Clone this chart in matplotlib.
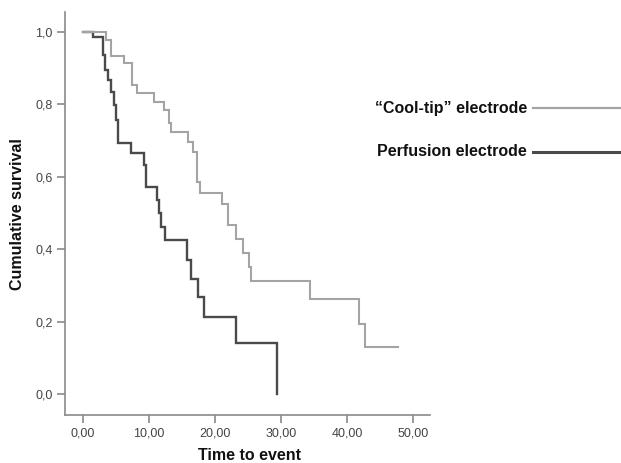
import matplotlib
matplotlib.use("Agg")
import matplotlib.pyplot as plt
from matplotlib.lines import Line2D

# Data
cool_time = [0.0, 3.5, 4.2, 6.2, 7.4, 8.2, 10.7, 12.3, 13.0, 13.4, 15.9, 16.6,
             17.3, 17.8, 21.1, 21.9, 23.1, 24.3, 25.2, 25.5, 34.4, 41.7, 42.6, 47.6]
cool_surv = [1.0, 0.978, 0.934, 0.914, 0.854, 0.831, 0.807, 0.785, 0.749, 0.724, 0.696, 0.669,
             0.586, 0.555, 0.525, 0.467, 0.428, 0.390, 0.351, 0.312, 0.262, 0.193, 0.130, 0.130]

perf_time = [0.0, 1.5, 3.0, 3.3, 3.8, 4.2, 4.7, 5.0, 5.3, 5.4, 7.3, 9.2, 9.5,
             11.3, 11.5, 11.8, 12.5, 15.7, 16.3, 17.5, 18.3, 23.1, 29.4]
perf_surv = [1.0, 0.985, 0.936, 0.895, 0.867, 0.834, 0.798, 0.757, 0.721, 0.693, 0.666, 0.633, 0.572,
             0.536, 0.500, 0.461, 0.425, 0.370, 0.318, 0.268, 0.213, 0.141, 0.0]

x_ticks = [0, 10, 20, 30, 40, 50]
x_ticklabels = ["0,00", "10,00", "20,00", "30,00", "40,00", "50,00"]
y_ticks = [0.0, 0.2, 0.4, 0.6, 0.8, 1.0]
y_ticklabels = ["0,0", "0,2", "0,4", "0,6", "0,8", "1,0"]

labels = ["\u201cCool-tip\u201d electrode", "Perfusion electrode"]
light = "#a4a4a4"
dark = "#4a4a4a"
spine_col = "#8a8a8a"

plt.rcParams['font.family'] = ['Liberation Sans', 'DejaVu Sans']

W, H = 621, 463
fig = plt.figure(figsize=(W / 100, H / 100), dpi=100)
ax = fig.add_axes([65 / W, 1 - 415 / H, (430 - 65) / W, (415 - 12.5) / H])

ax.step(perf_time, perf_surv, where='post', color=dark, lw=1.7, solid_joinstyle='miter')
ax.step(cool_time, cool_surv, where='post', color=light, lw=1.5, solid_joinstyle='miter')

ax.set_xlim(-2.68, 52.5)
ax.set_ylim(-0.057, 1.053)
ax.set_xticks(x_ticks)
ax.set_xticklabels(x_ticklabels)
ax.set_yticks(y_ticks)
ax.set_yticklabels(y_ticklabels)

for s in ['top', 'right']:
    ax.spines[s].set_visible(False)
for s in ['left', 'bottom']:
    ax.spines[s].set_color(spine_col)
    ax.spines[s].set_linewidth(1.2)

ax.tick_params(axis='both', colors=spine_col, width=1.2, length=6, labelsize=9,
               labelcolor='#444444', pad=3)

fig.text(250 / W, 1 - 455 / H, "Time to event", ha='center', va='center',
         fontsize=11.5, fontweight='bold', color='#111111')
fig.text(18 / W, 1 - 214 / H, "Cumulative survival", ha='center', va='center',
         rotation=90, fontsize=11.5, fontweight='bold', color='#111111')

# Legend drawn as labelled lines at the right
leg_y = [108, 152]
leg_cols = [light, dark]
leg_lw = [1.6, 2.2]
for lab, yy, c, lw in zip(labels, leg_y, leg_cols, leg_lw):
    fig.text(527 / W, 1 - yy / H, lab, ha='right', va='center', fontsize=11.5,
             fontweight='bold', color='#111111')
    fig.add_artist(Line2D([533 / W, 1.0], [1 - yy / H, 1 - yy / H], color=c, lw=lw,
                          transform=fig.transFigure))

fig.savefig("out.png", dpi=100)
